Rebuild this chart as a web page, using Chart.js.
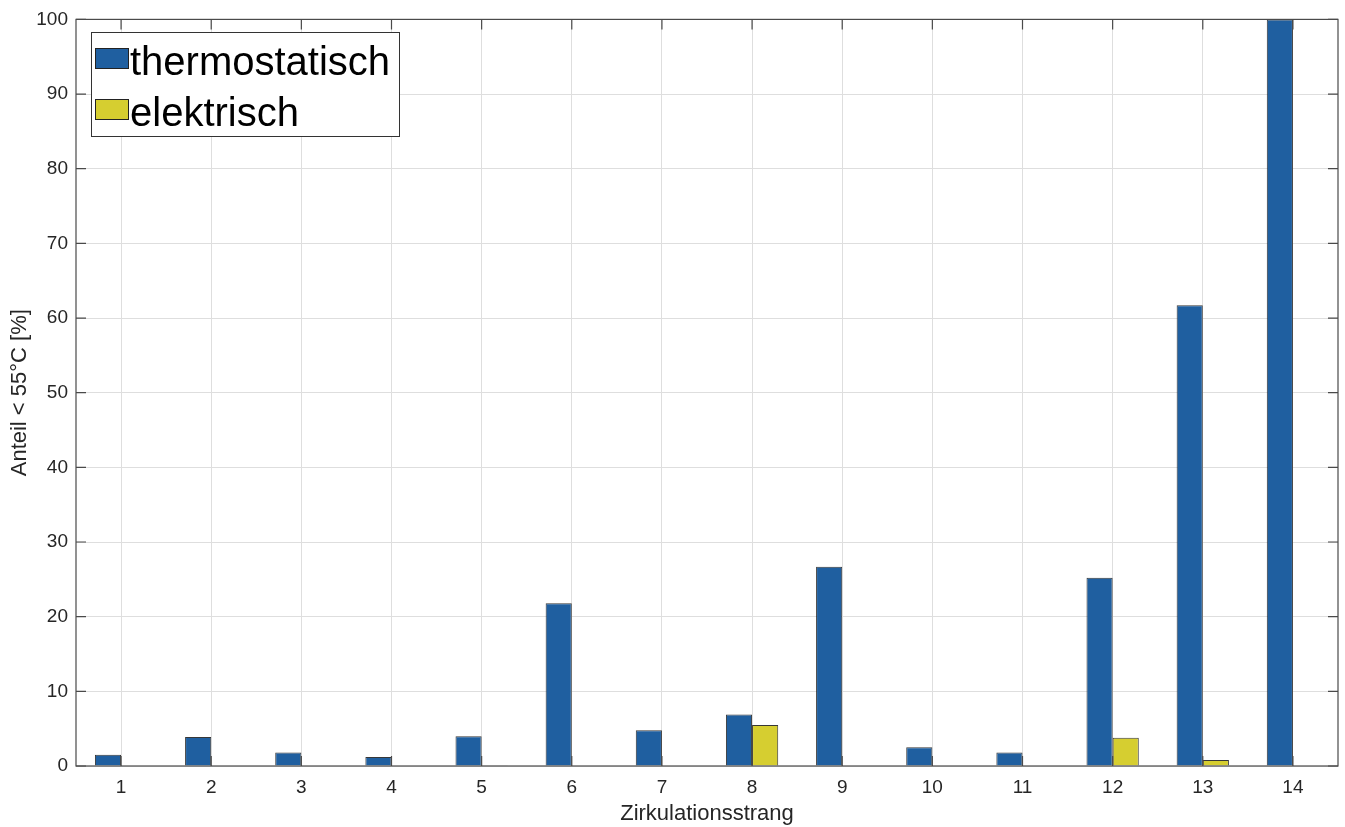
<!DOCTYPE html>
<html>
<head>
<meta charset="utf-8">
<script src="https://cdn.jsdelivr.net/npm/chart.js@4/dist/chart.umd.min.js"></script>
<style>
  html, body { margin: 0; padding: 0; background: #fff; }
  #wrap { width: 1345px; height: 827px; }
</style>
</head>
<body>
<div id="wrap"><canvas id="myChart" width="1345" height="827"></canvas></div>
<script>
const categories = ["1", "2", "3", "4", "5", "6", "7", "8", "9", "10", "11", "12", "13", "14"];
const thermostatisch = [1.5, 3.9, 1.8, 1.2, 4.0, 21.8, 4.8, 6.9, 26.7, 2.5, 1.8, 25.2, 61.7, 100];
const elektrisch = [0, 0, 0, 0, 0.1, 0, 0, 5.5, 0, 0, 0, 3.8, 0.8, 0];
const yTicks = [0, 10, 20, 30, 40, 50, 60, 70, 80, 90, 100];

const blue = "rgb(31,95,160)";
const yellow = "rgb(214,206,48)";
const axisColor = "#4a4a4a";
const font = "'Liberation Sans', Arial, sans-serif";

// matlab style box, inward ticks and legend inside the axes
const boxPlugin = {
  id: "box",
  afterDraw(chart) {
    const c = chart.ctx;
    const a = chart.chartArea;
    const xs = chart.scales.x;
    const ys = chart.scales.y;
    c.save();
    c.strokeStyle = axisColor;
    c.lineWidth = 1.2;
    c.strokeRect(a.left, a.top, a.right - a.left, a.bottom - a.top);
    c.beginPath();
    categories.forEach((_, i) => {
      const x = xs.getPixelForValue(i);
      c.moveTo(x, a.bottom); c.lineTo(x, a.bottom - 10);
      c.moveTo(x, a.top); c.lineTo(x, a.top + 10);
    });
    yTicks.forEach(v => {
      const y = ys.getPixelForValue(v);
      c.moveTo(a.left, y); c.lineTo(a.left + 10, y);
      c.moveTo(a.right, y); c.lineTo(a.right - 10, y);
    });
    c.stroke();

    // legend
    const lx = 91, ly = 32, lw = 308, lh = 104;
    c.fillStyle = "#fff";
    c.fillRect(lx, ly, lw, lh);
    c.strokeStyle = "#333";
    c.lineWidth = 1;
    c.strokeRect(lx + 0.5, ly + 0.5, lw, lh);
    c.font = "40px " + font;
    c.textBaseline = "middle";
    chart.data.datasets.forEach((ds, i) => {
      const cy = ly + 26 + i * 51;
      c.fillStyle = ds.backgroundColor;
      c.fillRect(95, cy - 10, 33, 20);
      c.strokeStyle = "#222";
      c.strokeRect(95.5, cy - 9.5, 33, 20);
      c.fillStyle = "#000";
      c.fillText(ds.label, 130, cy + 6);
    });
    c.restore();
  }
};

const ctx = document.getElementById("myChart").getContext("2d");
let chart = new Chart(ctx, {
  type: "bar",
  data: {
    labels: categories,
    datasets: [
      {
        label: "thermostatisch",
        backgroundColor: blue,
        borderColor: "rgba(20,20,20,0.85)",
        borderWidth: 1,
        data: thermostatisch,
      },
      {
        label: "elektrisch",
        backgroundColor: yellow,
        borderColor: "rgba(20,20,20,0.85)",
        borderWidth: 1,
        data: elektrisch,
      },
    ],
  },
  options: {
    responsive: false,
    animation: false,
    layout: { padding: { left: 0, right: 7, top: 17, bottom: 0 } },
    datasets: { bar: { barPercentage: 1, categoryPercentage: 0.58 } },
    plugins: {
      legend: { display: false },
      tooltip: { enabled: false },
    },
    scales: {
      x: {
        grid: { offset: false, color: "#dedede", drawTicks: false },
        border: { display: false },
        ticks: { color: "#262626", font: { family: font, size: 19 }, padding: 10 },
        title: {
          display: true, text: "Zirkulationsstrang", color: "#262626",
          font: { family: font, size: 22 }, padding: { top: -5, bottom: 0 },
        },
        afterFit(scale) { scale.height = 61; },
      },
      y: {
        min: 0, max: 100,
        afterBuildTicks(scale) { scale.ticks = yTicks.map(v => ({ value: v })); },
        grid: { color: "#dedede", drawTicks: false },
        border: { display: false },
        ticks: { color: "#262626", font: { family: font, size: 19 }, padding: 8 },
        title: {
          display: true, text: "Anteil < 55°C [%]", color: "#262626",
          font: { family: font, size: 22 }, padding: { top: 7, bottom: 0 },
        },
        afterFit(scale) { scale.width = 76; },
      },
    },
  },
  plugins: [boxPlugin],
});
</script>
</body>
</html>
